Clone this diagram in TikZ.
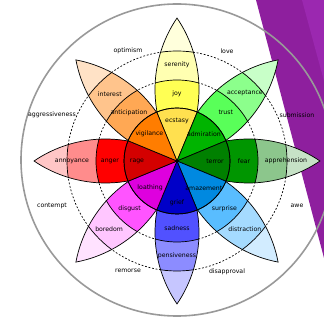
\documentclass[tikz,border=0pt]{standalone}
\usepackage{fontspec}
\setmainfont{DejaVu Sans}
\definecolor{purpA}{HTML}{8E1F9E}
\definecolor{purpB}{HTML}{9B28B0}
\definecolor{ringgray}{HTML}{999999}
% joy
\definecolor{joyT}{HTML}{FFFFDC}\definecolor{joyO}{HTML}{FFFFB1}\definecolor{joyM}{HTML}{FFFF54}\definecolor{joyI}{HTML}{FFE04F}
% trust
\definecolor{truT}{HTML}{C8FFC8}\definecolor{truO}{HTML}{8CFF8C}\definecolor{truM}{HTML}{59FF59}\definecolor{truI}{HTML}{00B400}
% fear
\definecolor{feaT}{HTML}{C6E2C6}\definecolor{feaO}{HTML}{8CC68C}\definecolor{feaM}{HTML}{009600}\definecolor{feaI}{HTML}{008000}
% surprise
\definecolor{surT}{HTML}{D2ECFF}\definecolor{surO}{HTML}{A5DBFF}\definecolor{surM}{HTML}{59BDFF}\definecolor{surI}{HTML}{0089E0}
% sadness
\definecolor{sadT}{HTML}{C6C6FF}\definecolor{sadO}{HTML}{8C8CFF}\definecolor{sadM}{HTML}{5151FF}\definecolor{sadI}{HTML}{0000C8}
% disgust
\definecolor{disT}{HTML}{FFE2FF}\definecolor{disO}{HTML}{FFC6FF}\definecolor{disM}{HTML}{FF54FF}\definecolor{disI}{HTML}{DE00DE}
% anger
\definecolor{angT}{HTML}{FFC6C6}\definecolor{angO}{HTML}{FF8C8C}\definecolor{angM}{HTML}{FF0000}\definecolor{angI}{HTML}{D40000}
% anticipation
\definecolor{antT}{HTML}{FFE2C6}\definecolor{antO}{HTML}{FFC48C}\definecolor{antM}{HTML}{FFA854}\definecolor{antI}{HTML}{FF7D00}

\newcommand\petalshape[5]{%
  \begin{scope}[shift={(177,160)}, rotate=#1]
    \begin{scope}
      \clip (0,0) arc[start angle=124.2,end angle=55.8,radius=127.2]
                  arc[start angle=-55.8,end angle=-124.2,radius=127.2] -- cycle;
      \fill[#2] (0,-30) rectangle (150,30);
      \fill[#3] (0,0) circle (110);
      \fill[#4] (0,0) circle (81);
      \draw[edgeline] (0,0) circle (110) (0,0) circle (81);
    \end{scope}
    \draw[edgeline] (0,0) arc[start angle=124.2,end angle=55.8,radius=127.2]
                    arc[start angle=-55.8,end angle=-124.2,radius=127.2] -- cycle;
  \end{scope}}
\newcommand\sectorshape[2]{%
  \filldraw[edgeline, fill=#2] (C) -- ++(#1-22.5:53)
     arc[start angle=#1-22.5, end angle=#1+22.5, radius=53] -- cycle;}

\begin{document}
\begin{tikzpicture}[x=1pt,y=1pt,
  lbl/.style={font=\fontsize{6.2}{7}\selectfont, inner sep=0pt, text=black},
  edgeline/.style={draw=black, line width=0.7pt},
  dashring/.style={draw=black, line width=0.7pt, dash pattern=on 1.8pt off 1.8pt},
  outerring/.style={draw=ringgray, line width=1.6pt}]
\useasboundingbox (0,0) rectangle (324,321);
\clip (0,0) rectangle (324,321);
% background stripes
\fill[purpA] (256,321) -- (324,321) -- (324,63) -- cycle;
\fill[purpB] (302,321) -- (324,321) -- (324,240) -- cycle;
% big grey ring
\coordinate (C) at (177,160);
\draw[outerring] (177,161) circle (156);
% dashed rings
\draw[dashring] (C) circle (81);
\draw[dashring] (C) circle (110);
% petals
\petalshape{90}{joyT}{joyO}{joyM}{joyI}
\petalshape{45}{truT}{truO}{truM}{truI}
\petalshape{0}{feaT}{feaO}{feaM}{feaI}
\petalshape{-45}{surT}{surO}{surM}{surI}
\petalshape{-90}{sadT}{sadO}{sadM}{sadI}
\petalshape{-135}{disT}{disO}{disM}{disI}
\petalshape{180}{angT}{angO}{angM}{angI}
\petalshape{135}{antT}{antO}{antM}{antI}
% inner sectors
\sectorshape{90}{joyI}
\sectorshape{45}{truI}
\sectorshape{0}{feaI}
\sectorshape{-45}{surI}
\sectorshape{-90}{sadI}
\sectorshape{-135}{disI}
\sectorshape{180}{angI}
\sectorshape{135}{antI}
\draw[edgeline] (C) circle (53);
% inner labels
\node[lbl] (ecstasy) at ([shift={(90:40)}]C) {ecstasy};
\node[lbl] (admiration) at ([shift={(45:38)}]C) {admiration};
\node[lbl] (terror) at ([shift={(0:38)}]C) {terror};
\node[lbl] (amazement) at ([shift={(-45:38)}]C) {amazement};
\node[lbl] (grief) at ([shift={(-90:42)}]C) {grief};
\node[lbl] (loathing) at ([shift={(-135:38)}]C) {loathing};
\node[lbl] (rage) at ([shift={(180:40)}]C) {rage};
\node[lbl] (vigilance) at ([shift={(135:39)}]C) {vigilance};
% middle labels
\node[lbl] (joy) at ([shift={(90:67)}]C) {joy};
\node[lbl] (trust) at ([shift={(45:69)}]C) {trust};
\node[lbl] (fear) at ([shift={(0:67)}]C) {fear};
\node[lbl] (surprise) at ([shift={(-45:67)}]C) {surprise};
\node[lbl] (sadness) at ([shift={(-90:67)}]C) {sadness};
\node[lbl] (disgust) at ([shift={(-135:67)}]C) {disgust};
\node[lbl] (anger) at ([shift={(180:67)}]C) {anger};
\node[lbl] (anticipation) at ([shift={(135:68)}]C) {anticipation};
% outer labels
\node[lbl] (serenity) at ([shift={(90:96)}]C) {serenity};
\node[lbl] (acceptance) at ([shift={(45:96)}]C) {acceptance};
\node[lbl] (apprehension) at ([shift={(0:109)}]C) {apprehension};
\node[lbl] (distraction) at ([shift={(-45:96)}]C) {distraction};
\node[lbl] (pensiveness) at ([shift={(-90:95)}]C) {pensiveness};
\node[lbl] (boredom) at ([shift={(-135:96)}]C) {boredom};
\node[lbl] (annoyance) at ([shift={(180:105)}]C) {annoyance};
\node[lbl] (interest) at ([shift={(135:95)}]C) {interest};
% dyads
\node[lbl] (optimism) at (128,270) {optimism};
\node[lbl] (love) at (227,270) {love};
\node[lbl] (submission) at (297,206) {submission};
\node[lbl] (awe) at (297,115) {awe};
\node[lbl] (disapproval) at (227,49) {disapproval};
\node[lbl] (remorse) at (128,50) {remorse};
\node[lbl] (contempt) at (52,115) {contempt};
\node[lbl] (aggressiveness) at (52,206) {aggressiveness};
\end{tikzpicture}
\end{document}
